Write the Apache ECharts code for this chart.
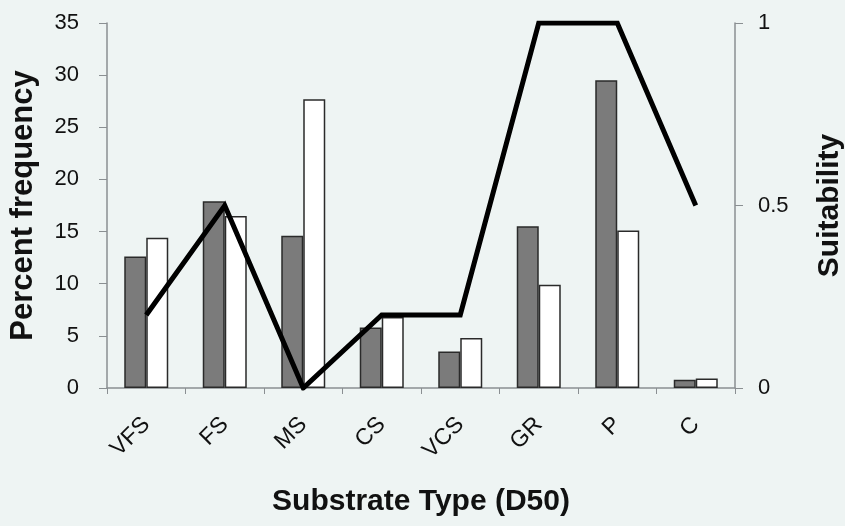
<!DOCTYPE html>
<html>
<head>
<meta charset="utf-8">
<script src="https://cdn.jsdelivr.net/npm/echarts@6/dist/echarts.min.js"></script>
<style>
html,body{margin:0;padding:0;background:#eef4f3;}
#c{width:845px;height:526px;}
</style>
</head>
<body>
<div id="c"></div>
<script>
var categories = ['VFS','FS','MS','CS','VCS','GR','P','C'];
var grayValues = [12.6, 17.9, 14.6, 5.8, 3.5, 15.5, 29.5, 0.8];
var whiteValues = [14.4, 16.5, 27.7, 6.8, 4.8, 9.9, 15.1, 0.9];
var suitability = [0.2, 0.5, 0, 0.2, 0.2, 1, 1, 0.5];
var leftTicks = {min: 0, max: 35, interval: 5};
var rightTicks = {min: 0, max: 1, interval: 0.5};

var font = '"Liberation Sans", Arial, sans-serif';
var chart = echarts.init(document.getElementById('c'), null, {renderer: 'canvas'});
chart.setOption({
  backgroundColor: '#eef4f3',
  animation: false,
  grid: {left: 107, right: 110, top: 23, bottom: 138, containLabel: false, outerBoundsMode: 'none'},
  xAxis: {
    type: 'category',
    data: categories,
    name: 'Substrate Type (D50)',
    nameLocation: 'middle',
    nameGap: 99,
    nameTextStyle: {fontFamily: font, fontWeight: 'bold', fontSize: 30, color: '#111'},
    axisLine: {lineStyle: {color: '#8a8f92', width: 1.5}},
    axisTick: {show: true, length: 6, lineStyle: {color: '#8a8f92'}},
    axisLabel: {rotate: 45, fontFamily: font, fontSize: 23, color: '#111', margin: 33}
  },
  yAxis: [{
    type: 'value',
    min: leftTicks.min, max: leftTicks.max, interval: leftTicks.interval,
    name: 'Percent frequency',
    nameLocation: 'middle',
    nameRotate: 90,
    nameGap: 68,
    nameTextStyle: {fontFamily: font, fontWeight: 'bold', fontSize: 31, color: '#111'},
    axisLine: {show: true, lineStyle: {color: '#8a8f92', width: 1.5}},
    axisTick: {show: true, length: 8, lineStyle: {color: '#8a8f92'}},
    splitLine: {show: false},
    axisLabel: {fontFamily: font, fontSize: 22, color: '#111', margin: 28}
  }, {
    type: 'value',
    position: 'right',
    min: rightTicks.min, max: rightTicks.max, interval: rightTicks.interval,
    name: 'Suitability',
    nameLocation: 'middle',
    nameRotate: 90,
    nameGap: 80,
    nameTextStyle: {fontFamily: font, fontWeight: 'bold', fontSize: 30, color: '#111'},
    axisLine: {show: true, lineStyle: {color: '#8a8f92', width: 1.5}},
    axisTick: {show: true, length: 8, lineStyle: {color: '#8a8f92'}},
    splitLine: {show: false},
    axisLabel: {fontFamily: font, fontSize: 22, color: '#111', margin: 23}
  }],
  series: [{
    type: 'bar',
    data: grayValues,
    barWidth: 22,
    barGap: '0%',
    itemStyle: {color: '#7b7b7b', borderColor: '#2a2a2a', borderWidth: 1.5}
  }, {
    type: 'bar',
    data: whiteValues,
    barWidth: 22,
    barGap: '0%',
    itemStyle: {color: '#ffffff', borderColor: '#2a2a2a', borderWidth: 1.5}
  }, {
    type: 'line',
    yAxisIndex: 1,
    data: suitability,
    symbol: 'none',
    z: 5,
    lineStyle: {color: '#000', width: 5, join: 'miter'}
  }]
});
</script>
</body>
</html>
